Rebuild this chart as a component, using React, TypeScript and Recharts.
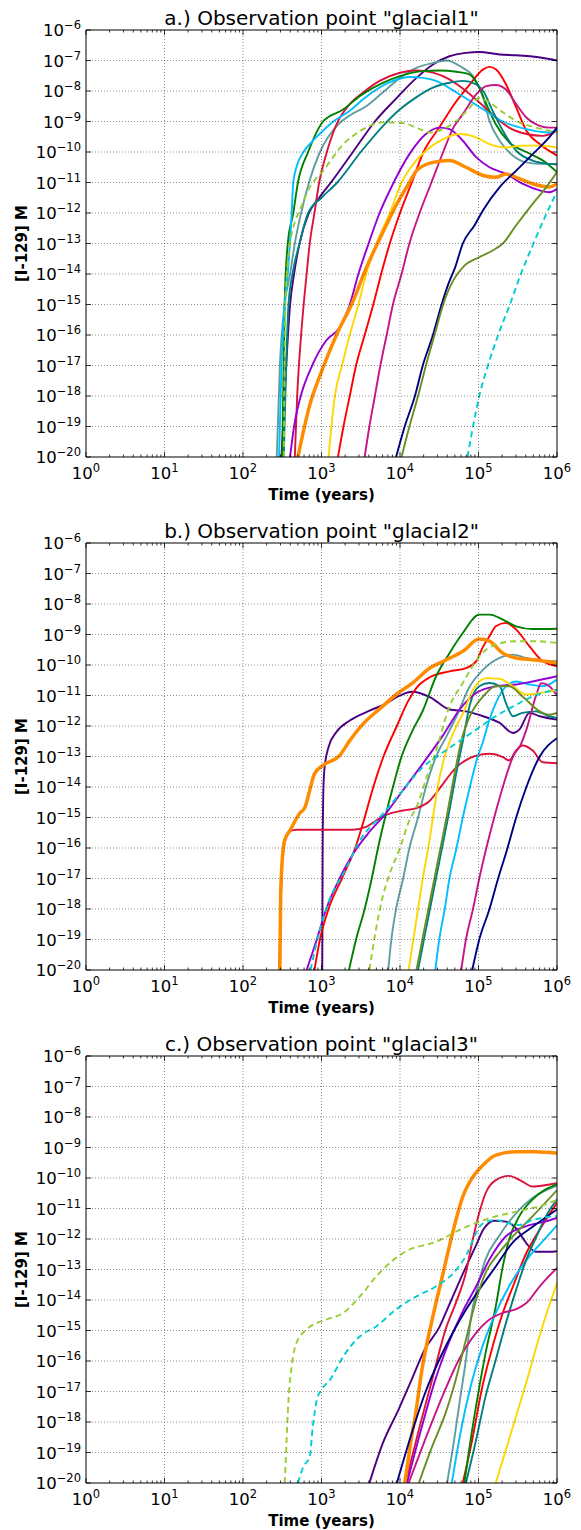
import React from "react";
import { LineChart, Line, XAxis, YAxis } from "recharts";

type Pt = [number, number];

// ---- panel a: glacial1 ----
const aIndigo: Pt[] = [[309,1e-20],[355,1e-17],[398,1e-15],[447,1e-14],[525,1e-13],[692,1e-12],[933,3.16e-12],[1318,1e-11],[2512,1e-10],[4786,1e-9],[8913,5.62e-9],[16220,2.69e-8],[26300,7.41e-8],[42660,1.38e-7],[69180,1.78e-7],[102300,1.91e-7],[186200,1.58e-7],[302000,1.48e-7],[489800,1.35e-7],[794300,1.12e-7],[1e6,1e-7]];
const aCadet: Pt[] = [[269,1e-20],[295,1e-17],[339,1e-15],[398,1e-14],[457,1e-13],[550,1e-12],[692,1e-11],[955,1e-10],[1622,7.94e-10],[2291,1.58e-9],[3715,3.16e-9],[6026,8.91e-9],[10000,2.69e-8],[16220,5.75e-8],[26300,8.32e-8],[38900,1e-7],[57540,6.61e-8],[93330,2.14e-8],[114800,6.03e-9],[138000,1.05e-9],[186200,2.34e-10],[275400,7.59e-11],[407400,4.57e-11],[660700,4.07e-11],[1e6,4.07e-11]];
const aRed: Pt[] = [[1622,1e-20],[1905,1e-19],[2291,1e-18],[2754,1e-17],[3548,1e-16],[4571,1e-15],[5754,1e-14],[7413,1e-13],[10000,1e-12],[14130,1e-11],[19950,1e-10],[31620,6.31e-10],[50120,3.98e-9],[77620,1.66e-8],[114800,5.13e-8],[138000,6.17e-8],[166000,5.13e-8],[223900,1.66e-8],[302000,2.88e-9],[407400,5.01e-10],[602600,1.82e-10],[1e6,7.59e-11]];
const aCrimson: Pt[] = [[457,1e-20],[490,1e-18],[550,1e-16],[646,1e-14],[708,1e-13],[813,1e-12],[933,1e-11],[1148,8.51e-11],[1549,7.94e-10],[2291,3.72e-9],[3388,8.91e-9],[5495,2.14e-8],[10000,3.98e-8],[16220,4.68e-8],[26300,3.98e-8],[42660,2.4e-8],[69180,1e-8],[114800,3.24e-9],[166000,1.35e-9],[245500,6.31e-10],[407400,3.89e-10],[660700,3.39e-10],[1e6,5.01e-10]];
const aGreen: Pt[] = [[316,1e-20],[339,1e-15],[372,1e-13],[437,1e-12],[501,1e-11],[676,1e-10],[1047,1e-9],[1905,2.51e-9],[3090,6.92e-9],[6026,1.86e-8],[10000,3.09e-8],[19500,4.47e-8],[31620,4.68e-8],[52480,4.27e-8],[77620,3.47e-8],[102300,1.29e-8],[125900,3.72e-9],[166000,8.13e-10],[245500,2.09e-10],[407400,1e-10],[660700,5.25e-11],[1e6,2.19e-11]];
const aSky: Pt[] = [[288,1e-20],[309,1e-17],[339,1e-15],[372,1e-14],[417,1e-12],[437,1e-11],[479,3.16e-11],[589,1e-10],[708,1.82e-10],[955,3.98e-10],[1413,1e-9],[2291,2.24e-9],[3388,5.37e-9],[5012,1.12e-8],[8128,2.14e-8],[13180,2.88e-8],[19500,2.69e-8],[28840,2.14e-8],[52480,8.91e-9],[114800,2.51e-9],[204200,1e-9],[407400,5.62e-10],[794300,4.37e-10],[1e6,5.62e-10]];
const aTeal: Pt[] = [[331,1e-20],[380,1e-15],[427,1e-14],[525,1e-13],[676,1e-12],[1000,3.16e-12],[1585,1e-11],[3162,1e-10],[6310,7.94e-10],[10000,2.51e-9],[16220,6.31e-9],[26300,1.29e-8],[42660,1.86e-8],[63100,2.14e-8],[93330,1.66e-8],[114800,1e-8],[151400,2.24e-9],[204200,5.01e-10],[302000,1.1e-10],[489800,5.25e-11],[794300,4.07e-11],[1e6,3.89e-11]];
const aMvr: Pt[] = [[3548,1e-20],[4074,1e-19],[4786,1e-18],[5623,1e-17],[6761,1e-16],[8128,1e-15],[10470,1e-14],[13180,1e-13],[17780,1e-12],[25120,1e-11],[35480,1e-10],[47860,6.31e-10],[63100,1.74e-9],[93330,7.76e-9],[125900,1.45e-8],[166000,1.58e-8],[223900,1.12e-8],[302000,3.72e-9],[407400,1.35e-9],[602600,7.24e-10],[794300,6.31e-10],[1e6,6.31e-10]];
const aViolet: Pt[] = [[398,1e-20],[447,1e-19],[525,7.08e-19],[776,1.12e-17],[1148,6.61e-17],[1698,1.78e-16],[2291,1e-15],[2951,1e-14],[3981,1e-13],[5495,1e-12],[7943,7.94e-12],[13180,8.51e-11],[21380,3.89e-10],[31620,6.31e-10],[42660,5.62e-10],[63100,2.34e-10],[93330,6.76e-11],[138000,3.16e-11],[223900,1.91e-11],[363100,9.12e-12],[602600,5.5e-12],[794300,4.79e-12],[1e6,6.17e-12]];
const aGold: Pt[] = [[1230,1e-20],[1479,1e-18],[1820,1e-17],[2291,1e-16],[2951,1e-15],[3715,1e-14],[5012,1e-13],[7413,1e-12],[10470,1e-11],[15850,5.01e-11],[21380,1.1e-10],[35480,2.63e-10],[57540,3.89e-10],[93330,3.02e-10],[138000,1.82e-10],[223900,1.41e-10],[363100,1.62e-10],[602600,1.62e-10],[1e6,1.41e-10]];
const aOrange: Pt[] = [[501,1e-20],[708,5.01e-19],[1000,6.31e-18],[1549,1e-16],[2512,1.26e-15],[3715,1.58e-14],[5888,2e-13],[9120,2e-12],[13180,1e-11],[16220,2.45e-11],[26300,4.57e-11],[42660,5.25e-11],[69180,3.16e-11],[114800,1.7e-11],[166000,1.48e-11],[223900,1.91e-11],[302000,1.48e-11],[489800,9.12e-12],[794300,7.08e-12],[1e6,9.12e-12]];
const aNavy: Pt[] = [[8913,1e-20],[11480,1e-19],[15490,1e-18],[19500,1e-17],[26300,1e-16],[33880,1e-15],[41690,5.01e-15],[50120,1.58e-14],[63100,1e-13],[89130,3.98e-13],[114800,1.26e-12],[186200,7.08e-12],[302000,2.45e-11],[489800,8.51e-11],[794300,3.02e-10],[1e6,6.31e-10]];
const aOlive: Pt[] = [[10470,1e-20],[13180,1e-19],[16980,1e-18],[21380,1e-17],[27540,1e-16],[35480,1e-15],[47860,6.31e-15],[63100,1.66e-14],[102300,3.55e-14],[151400,5.89e-14],[204200,1e-13],[302000,3.98e-13],[489800,2e-12],[707900,6.31e-12],[1e6,2.19e-11]];
const aYellowGreen: Pt[] = [[331,1e-20],[339,1e-17],[347,1e-15],[363,1e-14],[398,1e-13],[457,5.01e-13],[525,1.17e-12],[708,6.92e-12],[1047,2.4e-11],[1905,1.82e-10],[3162,5.01e-10],[6026,9.33e-10],[10960,8.91e-10],[16220,6.31e-10],[23990,4.37e-10],[35480,5.62e-10],[52480,1.05e-9],[77620,2.88e-9],[102300,6.03e-9],[138000,4.17e-9],[204200,2e-9],[302000,1.05e-9],[537000,6.31e-10],[1e6,4.37e-10]];
const aTurquoise: Pt[] = [[72440,1e-20],[85110,1e-19],[102300,1e-18],[131800,1e-17],[177800,1e-16],[251200,1e-15],[346700,1e-14],[501200,1e-13],[741300,1e-12],[1e6,5.01e-12]];

// ---- panel b: glacial2 ----
const bIndigo: Pt[] = [[1023,1e-20],[1035,1e-16],[1059,1e-14],[1096,4.47e-14],[1230,2.04e-13],[1549,6.31e-13],[2291,1.51e-12],[4169,3.24e-12],[6457,5.25e-12],[10000,1e-11],[14130,1.32e-11],[23990,8.91e-12],[42660,3.47e-12],[69180,3.02e-12],[114800,2.09e-12],[186200,1.26e-12],[275400,5.89e-13],[331100,7.59e-13],[446700,2.69e-12],[602600,2.09e-12],[1e6,1.62e-12]];
const bCadet: Pt[] = [[7079,1e-20],[7762,1e-19],[8913,1e-18],[10960,1e-17],[13180,1e-16],[16980,1e-15],[21380,1e-14],[28840,1e-13],[39810,5.01e-13],[52480,2.09e-12],[77620,2e-11],[114800,7.08e-11],[186200,1.7e-10],[275400,2.19e-10],[407400,1.7e-10],[660700,1.32e-10],[1e6,1.32e-10]];
const bRed: Pt[] = [[813,1e-20],[955,1e-19],[1230,1e-18],[1820,1e-17],[2692,1e-16],[3548,1e-15],[4571,1e-14],[6166,1e-13],[9120,1e-12],[12590,6.31e-12],[16220,1.78e-11],[23990,3.98e-11],[42660,6.17e-11],[69180,7.94e-11],[93330,1.32e-10],[114800,4.07e-10],[138000,8.71e-10],[166000,1.86e-9],[223900,2.4e-9],[302000,1.45e-9],[446700,4.07e-10],[660700,1.32e-10],[1e6,9.12e-11]];
const bCrimson: Pt[] = [[288,1e-20],[309,1e-17],[331,1e-16],[363,2.51e-16],[398,3.55e-16],[479,3.98e-16],[955,3.98e-16],[2512,3.98e-16],[3715,4.9e-16],[5012,8.13e-16],[6457,1.17e-15],[10960,1.7e-15],[15850,2e-15],[23990,3.55e-15],[31620,8.71e-15],[52480,4.47e-14],[93330,1.07e-13],[138000,1.23e-13],[204200,9.55e-14],[245500,7.41e-14],[302000,1.58e-13],[363100,2.29e-13],[489800,1.58e-13],[660700,6.46e-14],[1e6,6.03e-14]];
const bGreen: Pt[] = [[2239,1e-20],[2754,1e-19],[3548,1e-18],[4365,1e-17],[5248,1e-16],[6457,1e-15],[8128,1e-14],[10470,1e-13],[14130,6.31e-13],[19500,3.16e-12],[28840,4.27e-11],[42660,2.45e-10],[63100,1.12e-9],[102300,4.47e-9],[138000,4.47e-9],[204200,3.09e-9],[302000,1.86e-9],[489800,1.51e-9],[1e6,1.55e-9]];
const bSky: Pt[] = [[28180,1e-20],[31620,1e-19],[37150,1e-18],[42660,1e-17],[52480,1e-16],[63100,1e-15],[77620,1e-14],[97720,1e-13],[114800,3.16e-13],[125900,7.59e-13],[166000,5.62e-12],[223900,2e-11],[302000,2.88e-11],[446700,2.29e-11],[660700,2e-11],[1e6,3.31e-11]];
const bTeal: Pt[] = [[16980,1e-20],[20890,1.58e-19],[26300,3.16e-18],[33110,6.31e-17],[41690,1.26e-15],[52480,3.16e-14],[63100,3.16e-13],[77620,5.01e-12],[102300,2e-11],[138000,2.57e-11],[186200,2e-11],[223900,5.62e-12],[275400,2.09e-12],[363100,2.69e-12],[537000,3.02e-12],[794300,2.09e-12],[1e6,1.82e-12]];
const bMvr: Pt[] = [[60260,1e-20],[69180,1e-19],[85110,1e-18],[102300,1e-17],[125900,1e-16],[158500,1e-15],[204200,1e-14],[275400,1e-13],[346700,2.51e-13],[407400,7.59e-13],[537000,9.33e-12],[631000,2.51e-11],[758600,2.24e-11],[1e6,1e-11]];
const bViolet: Pt[] = [[646,1e-20],[871,1e-19],[1148,1e-18],[1698,1e-17],[2512,6.31e-17],[3981,3.16e-16],[6457,1.26e-15],[10960,7.94e-15],[19950,6.31e-14],[35480,5.01e-13],[57540,3.47e-12],[93330,1.2e-11],[166000,2e-11],[302000,2.29e-11],[489800,2.88e-11],[1e6,4.27e-11]];
const bGold: Pt[] = [[12880,1e-20],[14790,1e-19],[16980,1e-18],[19500,1e-17],[22910,1e-16],[26300,1e-15],[30200,1e-14],[37150,1e-13],[41690,2.51e-13],[52480,1e-12],[63100,2.51e-12],[85110,1.55e-11],[125900,3.72e-11],[186200,3.55e-11],[275400,2e-11],[407400,1.07e-11],[602600,1.2e-11],[1e6,1.55e-11]];
const bOrange: Pt[] = [[295,1e-20],[302,3.16e-18],[309,1.45e-17],[339,1.78e-16],[398,3.8e-16],[525,1.35e-15],[617,2.19e-15],[708,7.76e-15],[813,2.69e-14],[1047,5.13e-14],[1698,1.07e-13],[2291,3.31e-13],[3388,1.17e-12],[5495,3.63e-12],[9120,1.12e-11],[14790,2.69e-11],[23990,7.94e-11],[35480,1.32e-10],[63100,2.82e-10],[102300,7.08e-10],[138000,6.03e-10],[204200,2.45e-10],[302000,1.7e-10],[489800,1.48e-10],[1e6,1.17e-10]];
const bNavy: Pt[] = [[83180,1e-20],[102300,1e-19],[138000,1e-18],[177800,1e-17],[234400,1e-16],[302000,1e-15],[407400,1e-14],[602600,1e-13],[1e6,3.98e-13]];
const bOlive: Pt[] = [[16220,1e-20],[19950,1.58e-19],[25120,3.16e-18],[31620,6.31e-17],[39810,1.26e-15],[50120,3.16e-14],[60260,3.16e-13],[77620,2.09e-12],[114800,9.33e-12],[166000,2e-11],[245500,2e-11],[363100,9.33e-12],[602600,3.02e-12],[794300,2.34e-12],[1e6,2.69e-12]];
const bYellowGreen: Pt[] = [[4074,1e-20],[5012,2.63e-19],[6026,2.51e-18],[7413,1.45e-17],[10000,1e-16],[13180,8.13e-16],[16220,2.19e-15],[21880,2.09e-14],[28840,1.58e-13],[42660,4.37e-12],[63100,2.57e-11],[102300,1.91e-10],[166000,4.68e-10],[302000,6.03e-10],[537000,6.03e-10],[1e6,5.25e-10]];
const bTurquoise: Pt[] = [[724,1e-20],[832,5.01e-20],[1000,3.16e-19],[1259,2e-18],[1905,1.45e-17],[3090,1.78e-16],[6026,1.32e-15],[10000,6.03e-15],[19500,4.47e-14],[31620,1.12e-13],[52480,2.75e-13],[93330,7.59e-13],[166000,2.09e-12],[275400,4.37e-12],[489800,9.33e-12],[794300,1.38e-11],[1e6,1.55e-11]];

// ---- panel c: glacial3 ----
const cIndigo: Pt[] = [[4074,1e-20],[6026,2e-19],[9550,2.51e-18],[14130,2.51e-17],[20890,2.51e-16],[31620,1.26e-15],[41690,6.31e-15],[61660,6.31e-14],[93330,6.31e-13],[114800,2e-12],[158500,3.98e-12],[223900,3.72e-12],[302000,2.24e-12],[407400,7.24e-13],[537000,3.8e-13],[794300,3.8e-13],[1e6,3.98e-13]];
const cCadet: Pt[] = [[39810,1e-20],[48980,2.63e-19],[58880,6.92e-18],[69180,1.1e-16],[79430,2.29e-15],[97720,2.82e-14],[123000,2.14e-13],[182000,1.23e-12],[302000,7.08e-12],[489800,2.24e-11],[1e6,5.62e-11]];
const cRed: Pt[] = [[63100,1e-20],[83180,2.63e-19],[112200,1.48e-17],[151400,3.02e-16],[204200,3.8e-15],[275400,2.82e-14],[407400,3.47e-13],[602600,2.04e-12],[1e6,1.55e-11]];
const cCrimson: Pt[] = [[11750,1e-20],[17380,5.62e-19],[25700,2.45e-17],[38020,1.07e-15],[51290,7.94e-15],[69180,7.94e-14],[83180,7.94e-13],[102300,7.24e-12],[123000,3.16e-11],[166000,8.51e-11],[245500,1.17e-10],[363100,7.59e-11],[489800,5.25e-11],[724400,5.89e-11],[1e6,6.76e-11]];
const cGreen: Pt[] = [[66070,1e-20],[79430,2.63e-19],[97720,6.92e-18],[123000,1.82e-16],[166000,6.17e-15],[204200,1.29e-13],[245500,9.55e-13],[331100,5.62e-12],[489800,2e-11],[1e6,6.31e-11]];
const cSky: Pt[] = [[45710,1e-20],[58880,4.37e-19],[79430,1.48e-17],[112200,3.02e-16],[166000,3.8e-15],[275400,4.68e-14],[446700,2.75e-13],[724400,1.1e-12],[1e6,2.82e-12]];
const cTeal: Pt[] = [[69180,1e-20],[93330,2.63e-19],[123000,6.92e-18],[166000,1.1e-16],[223900,1.78e-15],[302000,2.19e-14],[407400,2.14e-13],[549500,1.23e-12],[724400,5.62e-12],[1e6,2e-11]];
const cMvr: Pt[] = [[12880,1e-20],[20890,2.63e-19],[34670,6.92e-18],[56230,1.1e-16],[93330,8.32e-16],[138000,2.29e-15],[204200,3.8e-15],[302000,5.01e-15],[407400,7.94e-15],[602600,2.82e-14],[1e6,1.12e-13]];
const cViolet: Pt[] = [[12300,1e-20],[19050,7.24e-19],[28180,2.45e-17],[41690,3.89e-16],[61660,3.8e-15],[93330,2.82e-14],[138000,2.14e-13],[223900,1.23e-12],[407400,2.63e-12],[724400,3.8e-12],[1e6,4.9e-12]];
const cGold: Pt[] = [[166000,1e-20],[223900,1.26e-19],[302000,1.58e-18],[407400,2e-17],[537000,2.51e-16],[724400,3.16e-15],[1e6,3.55e-14]];
const cOrange: Pt[] = [[11480,1e-20],[12300,3.16e-20],[13800,2.51e-19],[15850,1.95e-18],[19050,5.25e-17],[25700,2.29e-15],[34670,6.03e-14],[46770,1.58e-12],[63100,2.45e-11],[85110,1.1e-10],[114800,2.69e-10],[166000,5.62e-10],[302000,7.24e-10],[537000,7.24e-10],[1e6,6.46e-10]];
const cNavy: Pt[] = [[9120,1e-20],[14130,4.37e-19],[20890,8.91e-18],[31620,1.1e-16],[46770,8.32e-16],[69180,4.79e-15],[102300,2.19e-14],[166000,1.26e-13],[275400,7.94e-13],[489800,2.51e-12],[1e6,9.33e-12]];
const cOlive: Pt[] = [[17380,1e-20],[25700,1.58e-19],[38020,1.95e-18],[51290,2.45e-17],[69180,5.01e-16],[93330,1.02e-14],[123000,7.76e-14],[182000,3.47e-13],[302000,1.58e-12],[489800,5.62e-12],[1e6,3.98e-11]];
const cYellowGreen: Pt[] = [[339,1e-20],[347,3.16e-20],[355,1.26e-19],[380,5.37e-18],[417,6.76e-17],[479,3.89e-16],[646,1.07e-15],[1148,2.29e-15],[1905,3.8e-15],[3090,1.32e-14],[5012,6.03e-14],[8128,2e-13],[12020,3.98e-13],[28840,8.13e-13],[63100,2.24e-12],[138000,4.79e-12],[302000,7.94e-12],[660700,1.29e-11],[1e6,1.91e-11]];
const cTurquoise: Pt[] = [[501,1e-20],[589,3.47e-20],[708,7.41e-20],[776,7.24e-19],[871,5.37e-18],[1000,1.15e-17],[1288,2.45e-17],[1905,1.45e-16],[3090,6.46e-16],[5012,1.38e-15],[8913,4.9e-15],[16220,1.32e-14],[28840,2.82e-14],[52480,1e-13],[70790,3.16e-13],[89130,1.26e-12],[112200,3.16e-12],[166000,4.17e-12],[245500,3.24e-12],[331100,2.88e-12],[489800,4.17e-12],[794300,5.37e-12],[1e6,5.62e-12]];

// ---- axes ----
const xMajor = [1, 10, 100, 1000, 10000, 100000, 1000000];
const xMinor = [2,3,4,5,6,7,8,9,20,30,40,50,60,70,80,90,200,300,400,500,600,700,800,900,2000,3000,4000,5000,6000,7000,8000,9000,20000,30000,40000,50000,60000,70000,80000,90000,200000,300000,400000,500000,600000,700000,800000,900000];
const yMajor = [1e-20,1e-19,1e-18,1e-17,1e-16,1e-15,1e-14,1e-13,1e-12,1e-11,1e-10,1e-9,1e-8,1e-7,1e-6];
const titles = ['a.) Observation point "glacial1"', 'b.) Observation point "glacial2"', 'c.) Observation point "glacial3"'];

const COLORS = {
  indigo: "#4B0082", cadet: "#5F9EA0", red: "#FF0000", crimson: "#DC143C", green: "#008000",
  sky: "#00BFFF", teal: "#008080", mvr: "#C71585", violet: "#9400D3", gold: "#FFD700",
  orange: "#FF8C00", navy: "#000080", olive: "#6B8E23", yg: "#9ACD32", turq: "#00CED1",
};

type Series = { key: string; pts: Pt[]; color: string; w?: number; dash?: boolean };

const mk = (p: Pt[][]): Series[] => {
  const keys = ["indigo","cadet","red","crimson","green","sky","teal","mvr","violet","gold","orange","navy","olive","yg","turq"] as const;
  return keys.map((k, i) => ({
    key: k, pts: p[i], color: COLORS[k],
    w: k === "orange" ? 3.5 : 1.9,
    dash: k === "yg" || k === "turq",
  }));
};

const panels: Series[][] = [
  mk([aIndigo,aCadet,aRed,aCrimson,aGreen,aSky,aTeal,aMvr,aViolet,aGold,aOrange,aNavy,aOlive,aYellowGreen,aTurquoise]),
  mk([bIndigo,bCadet,bRed,bCrimson,bGreen,bSky,bTeal,bMvr,bViolet,bGold,bOrange,bNavy,bOlive,bYellowGreen,bTurquoise]),
  mk([cIndigo,cCadet,cRed,cCrimson,cGreen,cSky,cTeal,cMvr,cViolet,cGold,cOrange,cNavy,cOlive,cYellowGreen,cTurquoise]),
];

const W = 581, H = 513;
const TOP = 30, RIGHT = 24, BOTTOM = 56, LEFT = 86;
const PW = W - LEFT - RIGHT; // 471
const PH = H - TOP - BOTTOM; // 427
const FONT = "DejaVu Sans, sans-serif";
const GRID = { stroke: "#000", strokeOpacity: 0.55, strokeWidth: 0.8, strokeDasharray: "1 2" };
const isMajorX = (v: number) => xMajor.includes(v);
const expOf = (v: number) => Math.round(Math.log10(v));
const sup = (n: number) => (n < 0 ? "\u2212" + Math.abs(n) : String(n));

const BottomTick = (props: any) => {
  const { x, y, payload } = props;
  const major = isMajorX(payload.value);
  return (
    <g>
      <line x1={x} x2={x} y1={y} y2={y - (major ? 5 : 2.5)} stroke="#000" strokeWidth={0.8} />
      {major && (
        <text x={x} y={y + 22} textAnchor="middle" fontFamily={FONT} fontSize={16.5} fill="#000">
          10<tspan dy={-7} fontSize={11.5}>{sup(expOf(payload.value))}</tspan>
        </text>
      )}
    </g>
  );
};

const TopTick = (props: any) => {
  const { x, y, payload } = props;
  const major = isMajorX(payload.value);
  const inner = payload.value !== 1 && payload.value !== 1e6;
  return (
    <g>
      {major && inner && <line x1={x} x2={x} y1={y} y2={y + PH} {...GRID} />}
      <line x1={x} x2={x} y1={y} y2={y + (major ? 5 : 2.5)} stroke="#000" strokeWidth={0.8} />
    </g>
  );
};

const LeftTick = (props: any) => {
  const { x, y, payload } = props;
  return (
    <g>
      <line x1={x} x2={x + 5} y1={y} y2={y} stroke="#000" strokeWidth={0.8} />
      <text x={x - 5} y={y + 6} textAnchor="end" fontFamily={FONT} fontSize={16.5} fill="#000">
        10<tspan dy={-7} fontSize={11.5}>{sup(expOf(payload.value))}</tspan>
      </text>
    </g>
  );
};

const RightTick = (props: any) => {
  const { x, y, payload } = props;
  const inner = payload.value !== 1e-20 && payload.value !== 1e-6;
  return (
    <g>
      {inner && <line x1={x - PW} x2={x} y1={y} y2={y} {...GRID} />}
      <line x1={x} x2={x - 5} y1={y} y2={y} stroke="#000" strokeWidth={0.8} />
    </g>
  );
};

function Panel({ series, title }: { series: Series[]; title: string }) {
  return (
    <div style={{ position: "relative", width: W, height: H }}>
      <LineChart width={W} height={H} margin={{ top: 0, right: 0, bottom: 0, left: 0 }}>
        <XAxis xAxisId={0} dataKey="t" type="number" scale="log" domain={[1, 1e6]} allowDataOverflow
          ticks={[...xMajor, ...xMinor]} interval={0} height={BOTTOM} tickSize={0} tickMargin={0}
          tick={<BottomTick />} axisLine={{ stroke: "#000" }} tickLine={false} />
        <XAxis xAxisId="top" orientation="top" dataKey="t" type="number" scale="log" domain={[1, 1e6]} allowDataOverflow
          ticks={[...xMajor, ...xMinor]} interval={0} height={TOP} tickSize={0} tickMargin={0}
          tick={<TopTick />} axisLine={{ stroke: "#000" }} tickLine={false} />
        <YAxis yAxisId={0} type="number" scale="log" domain={[1e-20, 1e-6]} allowDataOverflow
          ticks={yMajor} interval={0} width={LEFT} tickSize={0} tickMargin={0}
          tick={<LeftTick />} axisLine={{ stroke: "#000" }} tickLine={false} />
        <YAxis yAxisId="right" orientation="right" type="number" scale="log" domain={[1e-20, 1e-6]} allowDataOverflow
          ticks={yMajor} interval={0} width={RIGHT} tickSize={0} tickMargin={0}
          tick={<RightTick />} axisLine={{ stroke: "#000" }} tickLine={false} />
        {series.map((s) => (
          <Line key={s.key} xAxisId={0} yAxisId={0}
            data={s.pts.map(([t, c]) => ({ t, c }))} dataKey="c" type="monotone"
            stroke={s.color} strokeWidth={s.w} strokeDasharray={s.dash ? "6 4" : undefined}
            dot={false} activeDot={false} isAnimationActive={false} />
        ))}
      </LineChart>
      <svg width={W} height={H} style={{ position: "absolute", left: 0, top: 0, pointerEvents: "none" }}>
        <text x={LEFT + PW / 2} y={25} textAnchor="middle" fontFamily={FONT} fontSize={20} fill="#000">{title}</text>
        <text x={LEFT + PW / 2} y={500} textAnchor="middle" fontFamily={FONT} fontSize={15} fontWeight="bold" fill="#000">Time (years)</text>
        <text transform={`translate(27 ${TOP + PH / 2}) rotate(-90)`} textAnchor="middle" fontFamily={FONT} fontSize={15} fontWeight="bold" fill="#000">[I-129] M</text>
      </svg>
    </div>
  );
}

export default function App() {
  return (
    <div style={{ position: "absolute", left: 0, top: 0, width: W, background: "#fff" }}>
      {panels.map((s, i) => (
        <Panel key={i} series={s} title={titles[i]} />
      ))}
    </div>
  );
}
